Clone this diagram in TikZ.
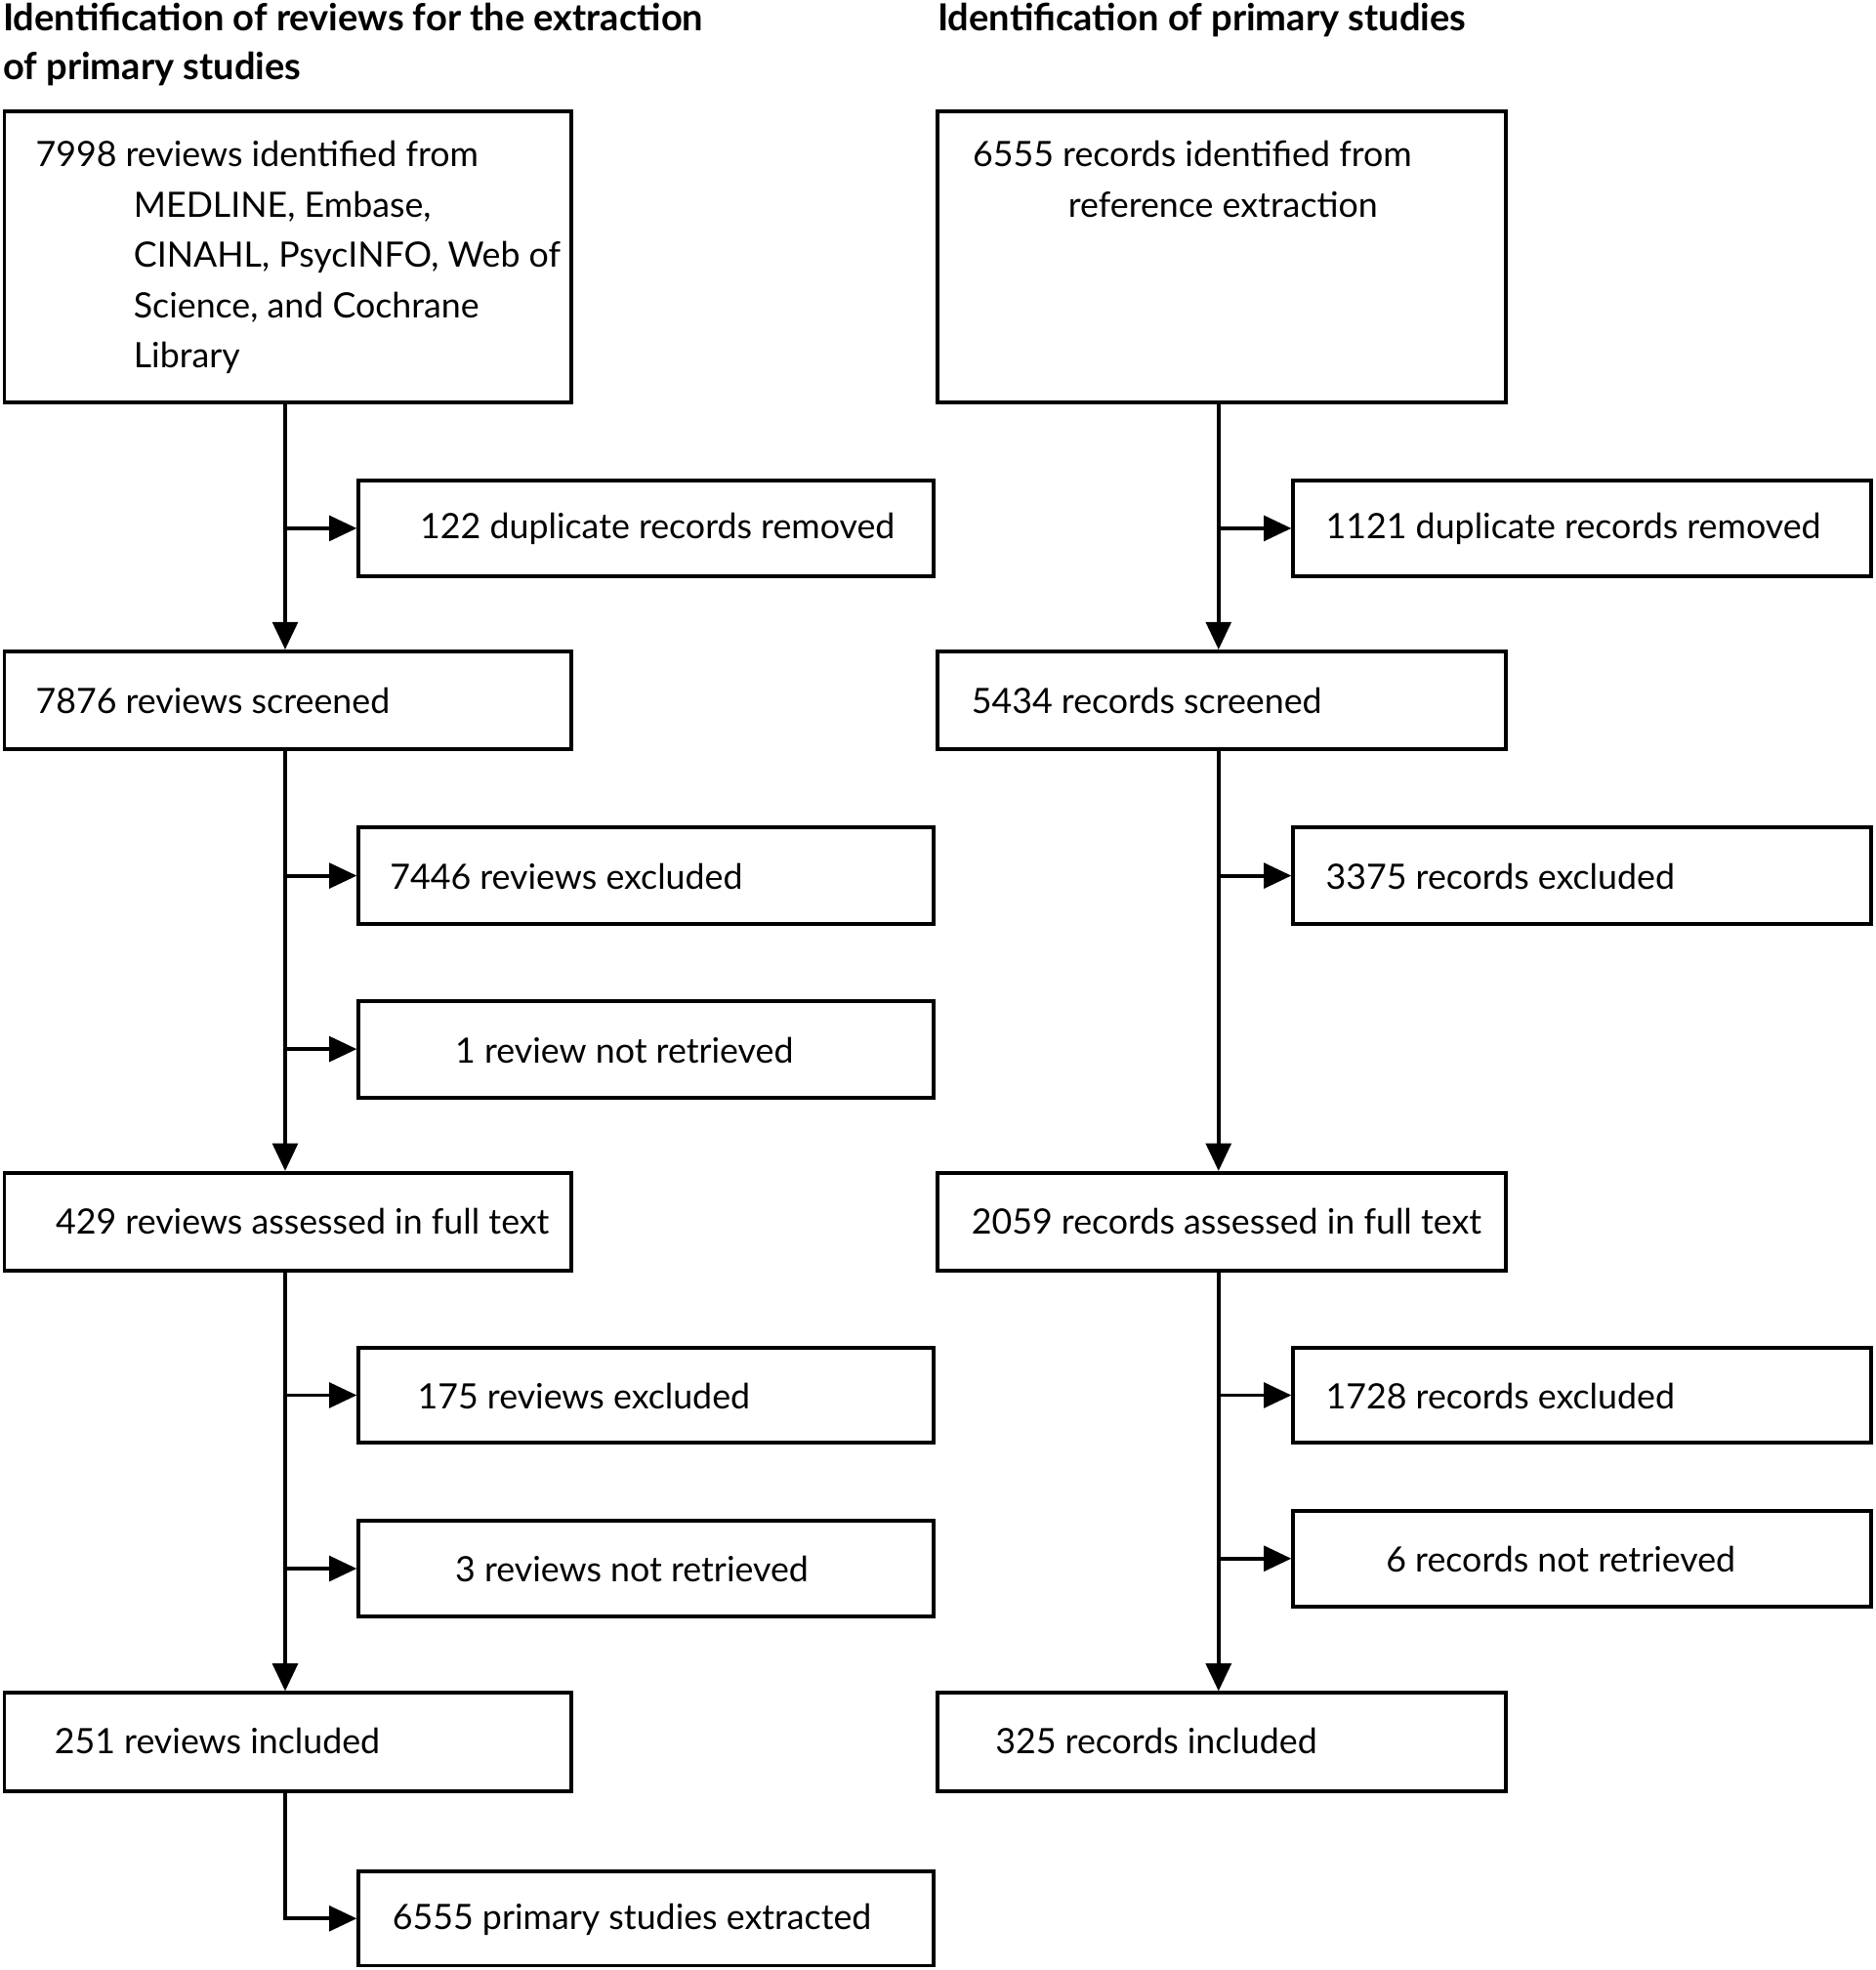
\documentclass[tikz,border=0pt]{standalone}
\usepackage{fontspec}
\setmainfont{Lato}
\usetikzlibrary{arrows.meta}
\begin{document}
\begin{tikzpicture}[x=0.5pt,y=-0.5pt,
  box/.style={draw,line width=1.5pt,inner sep=0pt},
  txt/.style={anchor=west,inner sep=0pt,font=\fontsize{13.9pt}{20pt}\selectfont},
  hd/.style={anchor=north west,inner sep=0pt,align=left,font=\fontsize{14.8pt}{19.5pt}\selectfont\bfseries},
  ln/.style={line width=1.5pt},
  ar/.style={line width=1.5pt,-{Triangle[length=11pt,width=10pt]}}]
\useasboundingbox (0,0) rectangle (1493,1568);
\def\bx#1#2#3#4#5{\node[box,minimum width=#3*0.5pt-1.5pt,minimum height=#5*0.5pt-#4*0.5pt-1.5pt] (#1) at ({(#2+#3/2)},{(#4+#5)/2}) {};}
% headings
\node[hd] (h1) at (2,2) {Identification of reviews for the extraction\\of primary studies};
\node[hd] (h2) at (746,2) {Identification of primary studies};
% left column
\bx{a1}{2}{454}{87}{322}
\bx{a2}{284}{461}{381}{460}
\bx{a3}{2}{454}{517}{598}
\bx{a4}{284}{461}{657}{737}
\bx{a5}{284}{461}{795}{875}
\bx{a6}{2}{454}{932}{1013}
\bx{a7}{284}{461}{1071}{1150}
\bx{a8}{284}{461}{1209}{1288}
\bx{a9}{2}{454}{1346}{1427}
\bx{a10}{284}{461}{1488}{1566}
% right column
\bx{b1}{745}{455}{87}{322}
\bx{b2}{1028}{463}{381}{460}
\bx{b3}{745}{455}{517}{598}
\bx{b4}{1028}{463}{657}{737}
\bx{b6}{745}{455}{932}{1013}
\bx{b7}{1028}{463}{1071}{1150}
\bx{b8}{1028}{463}{1201}{1280}
\bx{b9}{745}{455}{1346}{1427}
% texts
\node[txt,anchor=north west,align=left] (t1) at (28,112) {7998 reviews identified from\\\hspace*{39pt}MEDLINE, Embase,\\\hspace*{39pt}CINAHL, PsycINFO, Web of\\\hspace*{39pt}Science, and Cochrane\\\hspace*{39pt}Library};
\node[txt] (t2) at (334,421) {122 duplicate records removed};
\node[txt] (t3) at (28,558) {7876 reviews screened};
\node[txt] (t4) at (310,698) {7446 reviews excluded};
\node[txt] (t5) at (362,836) {1 review not retrieved};
\node[txt] (t6) at (44,972) {429 reviews assessed in full text};
\node[txt] (t7) at (332,1111) {175 reviews excluded};
\node[txt] (t8) at (362,1249) {3 reviews not retrieved};
\node[txt] (t9) at (43,1386) {251 reviews included};
\node[txt] (t10) at (312,1528) {6555 primary studies extracted};
\node[txt,anchor=north west,align=left] (u1) at (774,112) {6555 records identified from\\\hspace*{38pt}reference extraction};
\node[txt] (u2) at (1055,421) {1121 duplicate records removed};
\node[txt] (u3) at (773,558) {5434 records screened};
\node[txt] (u4) at (1055,698) {3375 records excluded};
\node[txt] (u6) at (773,972) {2059 records assessed in full text};
\node[txt] (u7) at (1055,1111) {1728 records excluded};
\node[txt] (u8) at (1103,1241) {6 records not retrieved};
\node[txt] (u9) at (792,1386) {325 records included};
% connectors left
\draw[ar] (a1.south -| 227,0) -- (a3.north -| 227,0);
\draw[ar] (a3.south -| 227,0) -- (a6.north -| 227,0);
\draw[ar] (a6.south -| 227,0) -- (a9.north -| 227,0);
\foreach \n in {a2,a4,a5,a7,a8}{\draw[ar] (\n.west -| 227,0) -- (\n.west);}
\coordinate (c1) at (a10.west -| 227,0);
\draw[ar] (a9.south -| 227,0) -- (c1) -- (a10.west);
% connectors right
\draw[ar] (b1.south -| 970,0) -- (b3.north -| 970,0);
\draw[ar] (b3.south -| 970,0) -- (b6.north -| 970,0);
\draw[ar] (b6.south -| 970,0) -- (b9.north -| 970,0);
\foreach \n in {b2,b4,b7,b8}{\draw[ar] (\n.west -| 970,0) -- (\n.west);}
\end{tikzpicture}
\end{document}
